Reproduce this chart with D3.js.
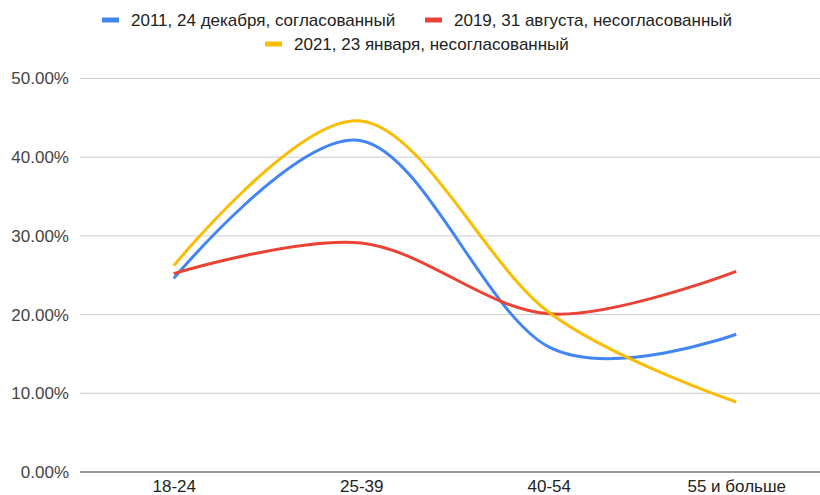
<!DOCTYPE html>
<html>
<head>
<meta charset="utf-8">
<script src="https://cdn.jsdelivr.net/npm/d3@7"></script>
<style>
  body { margin: 0; background: #fff; }
  svg { display: block; font-family: Arial, "Liberation Sans", sans-serif; }
</style>
</head>
<body>
<div id="chart"></div>
<script>
// Data
const categories = ["18-24", "25-39", "40-54", "55 и больше"];
const seriesNames = [
    "2011, 24 декабря, согласованный",
    "2019, 31 августа, несогласованный",
    "2021, 23 января, несогласованный"
];
const values2011 = [0.246, 0.421, 0.159, 0.175];
const values2019 = [0.252, 0.291, 0.201, 0.255];
const values2021 = [0.262, 0.446, 0.203, 0.089];
const yTicks = [0, 0.1, 0.2, 0.3, 0.4, 0.5];
const colors = ["#4285F4", "#EA4335", "#FBBC04"];

const W = 820, H = 495;
const plot = {left: 80, right: 830, top: 78.5, bottom: 472};

const svg = d3.select("#chart")
    .append("svg")
    .attr("width", W)
    .attr("height", H);

const x = d3.scalePoint()
    .domain(categories)
    .range([plot.left, plot.right])
    .padding(0.5);

const y = d3.scaleLinear()
    .domain([0, 0.5])
    .range([plot.bottom, plot.top]);

// gridlines
svg.append("g")
    .selectAll("line")
    .data(yTicks.slice(1))
    .join("line")
    .attr("x1", plot.left)
    .attr("x2", W)
    .attr("y1", d => y(d))
    .attr("y2", d => y(d))
    .attr("stroke", "#cccccc")
    .attr("stroke-width", 1);

// y axis labels
const yAxis = d3.axisLeft(y)
    .tickValues(yTicks)
    .tickFormat(d3.format(".2%"))
    .tickSize(0)
    .tickPadding(11);

svg.append("g")
    .attr("transform", `translate(${plot.left},0)`)
    .call(yAxis)
    .call(g => g.select(".domain").remove())
    .selectAll("text")
    .attr("font-size", 17)
    .attr("fill", "#444");

// baseline
svg.append("line")
    .attr("x1", plot.left)
    .attr("x2", W)
    .attr("y1", y(0))
    .attr("y2", y(0))
    .attr("stroke", "#333")
    .attr("stroke-width", 1.2);

// x axis labels
const xAxis = d3.axisBottom(x).tickSize(0).tickPadding(8);
svg.append("g")
    .attr("transform", `translate(0,${plot.bottom})`)
    .call(xAxis)
    .call(g => g.select(".domain").remove())
    .selectAll("text")
    .attr("font-size", 17)
    .attr("fill", "#222");

// lines
const series = [values2011, values2019, values2021].map((vals, i) => ({
    name: seriesNames[i],
    color: colors[i],
    values: vals.map((v, j) => ({cat: categories[j], value: v}))
}));

const line = d3.line()
    .x(d => x(d.cat))
    .y(d => y(d.value))
    .curve(d3.curveCardinal.tension(0));

svg.append("g")
    .selectAll("path")
    .data(series)
    .join("path")
    .attr("fill", "none")
    .attr("stroke", d => d.color)
    .attr("stroke-width", 3)
    .attr("d", d => line(d.values));

// legend
const legendRows = [
    {y: 20, items: [{i: 0, x: 102}, {i: 1, x: 425}]},
    {y: 44, items: [{i: 2, x: 265}]}
];
legendRows.forEach(row => {
    row.items.forEach(it => {
        const g = svg.append("g").attr("transform", `translate(${it.x},${row.y})`);
        g.append("rect")
            .attr("x", 0).attr("y", -2.5)
            .attr("width", 17).attr("height", 5)
            .attr("fill", colors[it.i]);
        g.append("text")
            .attr("x", 29)
            .attr("dy", "0.35em")
            .attr("font-size", 17)
            .attr("fill", "#222")
            .text(seriesNames[it.i]);
    });
});
</script>
</body>
</html>
